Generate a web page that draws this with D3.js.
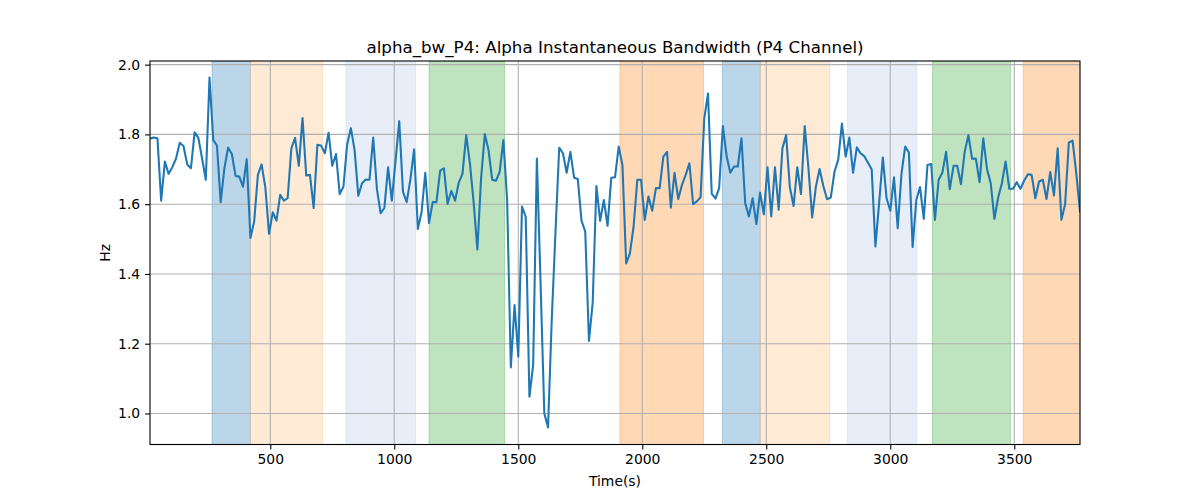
<!DOCTYPE html>
<html>
<head>
<meta charset="utf-8">
<script src="https://cdn.jsdelivr.net/npm/d3@7"></script>
<style>
  html, body { margin: 0; padding: 0; background: #ffffff; }
  svg { display: block; font-family: "DejaVu Sans", sans-serif; }
</style>
</head>
<body>
<svg id="chart" width="1200" height="500"></svg>
<script>
const chartTitle = "alpha_bw_P4: Alpha Instantaneous Bandwidth (P4 Channel)";
const xLabel = "Time(s)";
const yLabel = "Hz";

const times = [
  15,30,45,60,75,90,105,120,135,150,165,180,195,210,225,240,255,270,285,300,
  315,330,345,360,375,390,405,420,435,450,465,480,495,510,525,540,555,570,585,600,
  615,630,645,660,675,690,705,720,735,750,765,780,795,810,825,840,855,870,885,900,
  915,930,945,960,975,990,1005,1020,1035,1050,1065,1080,1095,1110,1125,1140,1155,1170,1185,1200,
  1215,1230,1245,1260,1275,1290,1305,1320,1335,1350,1365,1380,1395,1410,1425,1440,1455,1470,1485,1500,
  1515,1530,1545,1560,1575,1590,1605,1620,1635,1650,1665,1680,1695,1710,1725,1740,1755,1770,1785,1800,
  1815,1830,1845,1860,1875,1890,1905,1920,1935,1950,1965,1980,1995,2010,2025,2040,2055,2070,2085,2100,
  2115,2130,2145,2160,2175,2190,2205,2220,2235,2250,2265,2280,2295,2310,2325,2340,2355,2370,2385,2400,
  2415,2430,2445,2460,2475,2490,2505,2520,2535,2550,2565,2580,2595,2610,2625,2640,2655,2670,2685,2700,
  2715,2730,2745,2760,2775,2790,2805,2820,2835,2850,2865,2880,2895,2910,2925,2940,2955,2970,2985,3000,
  3015,3030,3045,3060,3075,3090,3105,3120,3135,3150,3165,3180,3195,3210,3225,3240,3255,3270,3285,3300,
  3315,3330,3345,3360,3375,3390,3405,3420,3435,3450,3465,3480,3495,3510,3525,3540,3555,3570,3585,3600,
  3615,3630,3645,3660,3675,3690,3705,3720,3735,3750,3765
];

const bandwidth = [
  1.788,1.791,1.789,1.610,1.722,1.687,1.706,1.731,1.776,1.767,
  1.714,1.703,1.806,1.790,1.731,1.670,1.963,1.784,1.768,1.606,
  1.703,1.762,1.744,1.681,1.679,1.650,1.729,1.503,1.550,1.684,
  1.714,1.649,1.515,1.577,1.553,1.627,1.610,1.617,1.760,1.790,
  1.710,1.847,1.682,1.684,1.589,1.770,1.768,1.746,1.805,1.710,
  1.744,1.629,1.650,1.772,1.818,1.755,1.624,1.660,1.671,1.670,
  1.791,1.643,1.574,
  1.589,1.706,1.610,1.724,1.838,1.636,1.606,1.671,1.757,1.529,
  1.577,1.690,1.546,1.606,1.606,1.696,1.703,1.601,1.638,1.610,
  1.662,1.687,1.798,1.717,1.605,1.470,1.674,1.801,1.755,1.670,
  1.667,1.693,1.784,1.612,1.132,1.311,1.163,1.593,1.564,1.048,
  1.139,1.731,1.370,1.000,0.960,1.270,1.520,1.762,1.746,1.690,
  1.750,1.676,1.672,1.552,1.522,1.208,1.317,1.652,1.552,1.612,
  1.538,
  1.676,1.677,1.765,1.712,1.430,1.458,1.536,1.670,1.670,1.555,
  1.622,1.581,1.646,1.646,1.736,1.750,1.590,1.690,1.615,1.655,
  1.684,1.717,1.600,1.608,1.620,1.846,1.917,1.630,1.616,1.646,
  1.824,1.738,1.690,1.708,1.708,1.789,1.603,1.565,1.617,1.543,
  1.633,1.571,1.706,1.565,1.706,1.584,1.760,1.798,1.649,1.595,
  1.706,1.629,1.824,1.703,1.562,1.650,1.701,1.652,1.614,1.619,
  1.693,1.727,
  1.831,1.736,1.791,1.690,1.763,1.746,1.738,1.719,1.700,1.479,
  1.603,1.734,1.617,1.581,1.677,1.531,1.686,1.765,1.748,1.477,
  1.612,1.649,1.558,1.712,1.715,1.555,1.670,1.690,1.750,1.643,
  1.710,1.710,1.657,1.750,1.798,1.730,1.731,1.663,1.789,1.701,
  1.660,1.558,1.619,1.660,1.722,1.644,1.644,1.663,1.644,1.668,
  1.686,1.684,1.617,1.665,1.670,1.615,1.692,1.625,1.760,1.555,
  1.600,1.777,1.782,1.688,1.579
];

const spanStarts = [265, 420, 805, 1140, 1910, 2323, 2476, 2827, 3170, 3536];
const spanEnds   = [420, 711, 1086, 1445, 2247, 2476, 2756, 3107, 3485, 3800];
const spanColors = ["#1f77b4", "#ffbb78", "#aec7e8", "#2ca02c", "#ff7f0e",
                    "#1f77b4", "#ffbb78", "#aec7e8", "#2ca02c", "#ff7f0e"];

const xTicks = [500, 1000, 1500, 2000, 2500, 3000, 3500];
const yTicks = [1.0, 1.2, 1.4, 1.6, 1.8, 2.0];

const margin = { left: 150, right: 1080, top: 61, bottom: 444.5 };

const svg = d3.select("#chart");

const x = d3.scaleLinear().domain([15, 3765]).range([margin.left, margin.right]);
const y = d3.scaleLinear().domain([0.911, 2.0105]).range([margin.bottom, margin.top]);

const clip = svg.append("defs").append("clipPath").attr("id", "plotclip")
  .append("rect")
  .attr("x", margin.left).attr("y", margin.top)
  .attr("width", margin.right - margin.left)
  .attr("height", margin.bottom - margin.top);

const plot = svg.append("g").attr("clip-path", "url(#plotclip)");

// spans
plot.selectAll("rect.span")
  .data(spanStarts.map((s, i) => ({ s, e: spanEnds[i], c: spanColors[i] })))
  .enter().append("rect")
  .attr("class", "span")
  .attr("x", d => x(d.s))
  .attr("y", margin.top)
  .attr("width", d => x(d.e) - x(d.s))
  .attr("height", margin.bottom - margin.top)
  .attr("fill", d => d.c)
  .attr("fill-opacity", 0.3)
  .attr("stroke", d => d.c)
  .attr("stroke-opacity", 0.3)
  .attr("stroke-width", 1);

// grid
const gridG = plot.append("g");
gridG.selectAll("line.gx").data(xTicks).enter().append("line")
  .attr("x1", d => x(d)).attr("x2", d => x(d))
  .attr("y1", margin.top).attr("y2", margin.bottom)
  .attr("stroke", "#b0b0b0").attr("stroke-width", 1.1);
gridG.selectAll("line.gy").data(yTicks).enter().append("line")
  .attr("y1", d => y(d)).attr("y2", d => y(d))
  .attr("x1", margin.left).attr("x2", margin.right)
  .attr("stroke", "#b0b0b0").attr("stroke-width", 1.1);

// line
const line = d3.line()
  .x((d, i) => x(times[i]))
  .y(d => y(d));
plot.append("path")
  .datum(bandwidth)
  .attr("d", line)
  .attr("fill", "none")
  .attr("stroke", "#1f77b4")
  .attr("stroke-width", 2.08)
  .attr("stroke-linejoin", "round")
  .attr("stroke-linecap", "square");

// axes
const xAxis = d3.axisBottom(x).tickValues(xTicks).tickFormat(d3.format("d"))
  .tickSizeInner(4.9).tickSizeOuter(0).tickPadding(4.9);
const yAxis = d3.axisLeft(y).tickValues(yTicks).tickFormat(d3.format(".1f"))
  .tickSizeInner(4.9).tickSizeOuter(0).tickPadding(4.9);

const gx = svg.append("g").attr("transform", `translate(0,${margin.bottom})`).call(xAxis);
const gy = svg.append("g").attr("transform", `translate(${margin.left},0)`).call(yAxis);
[gx, gy].forEach(g => {
  g.select(".domain").remove();
  g.selectAll(".tick line").attr("stroke", "#000").attr("stroke-width", 1.1);
  g.selectAll(".tick text").attr("fill", "#000")
    .style("font-family", "'DejaVu Sans', sans-serif").style("font-size", "13.9px");
});

// spines
svg.append("rect")
  .attr("x", margin.left).attr("y", margin.top)
  .attr("width", margin.right - margin.left)
  .attr("height", margin.bottom - margin.top)
  .attr("fill", "none").attr("stroke", "#000").attr("stroke-width", 1.1);

// title and labels
svg.append("text")
  .attr("x", (margin.left + margin.right) / 2).attr("y", 52.5)
  .attr("text-anchor", "middle")
  .style("font-size", "16.7px").attr("fill", "#000")
  .text(chartTitle);

svg.append("text")
  .attr("x", (margin.left + margin.right) / 2).attr("y", 486)
  .attr("text-anchor", "middle")
  .style("font-size", "13.9px").attr("fill", "#000")
  .text(xLabel);

svg.append("text")
  .attr("transform", `translate(110,${(margin.top + margin.bottom) / 2}) rotate(-90)`)
  .attr("text-anchor", "middle")
  .style("font-size", "13.9px").attr("fill", "#000")
  .text(yLabel);
</script>
</body>
</html>
